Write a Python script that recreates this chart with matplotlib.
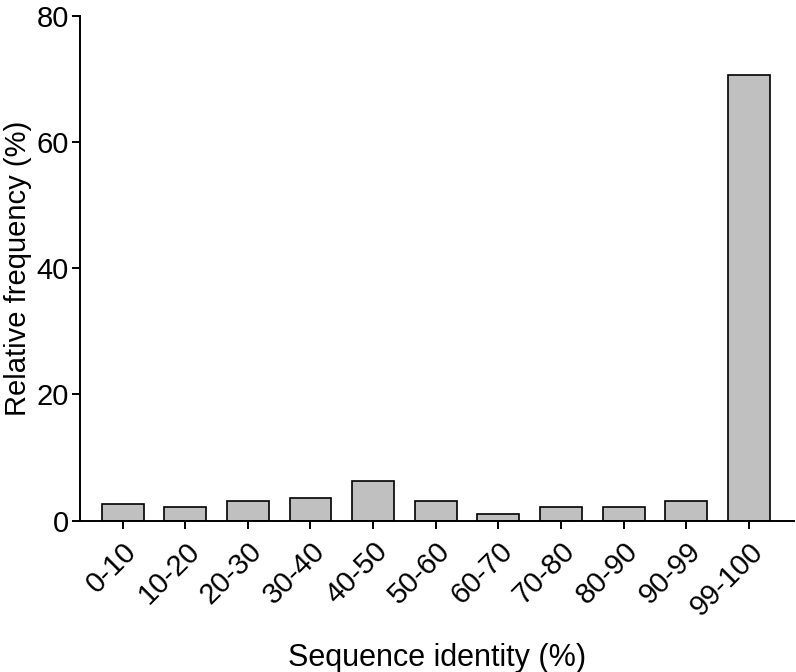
import matplotlib.pyplot as plt

plt.rcParams['font.family'] = ['Liberation Sans', 'DejaVu Sans']

categories = ["0-10", "10-20", "20-30", "30-40", "40-50", "50-60",
              "60-70", "70-80", "80-90", "90-99", "99-100"]
frequency = [2.6, 2.1, 3.1, 3.6, 6.2, 3.1, 1.0, 2.1, 2.1, 3.1, 70.6]

fig = plt.figure(figsize=(7.96, 6.72), dpi=100)
ax = fig.add_axes([0.1005, 0.2254, 0.897, 0.7508])

x = range(len(categories))
ax.bar(x, frequency, width=0.67, color="#c0c0c0", edgecolor="black", linewidth=1.2)

ax.set_xlim(-0.68, 10.72)
ax.set_ylim(0, 80)
ax.set_yticks([0, 20, 40, 60, 80])
ax.set_xticks(list(x))
ax.set_xticklabels(categories, rotation=45, ha="right", rotation_mode="anchor")

for side in ["top", "right"]:
    ax.spines[side].set_visible(False)
for side in ["left", "bottom"]:
    ax.spines[side].set_linewidth(1.4)

ax.tick_params(axis="both", labelsize=21, width=1.4, length=6, direction="out")
ax.tick_params(axis="y", pad=2)
ax.tick_params(axis="x", pad=6)

ax.set_xlabel("Sequence identity (%)", fontsize=22, labelpad=16)
ax.set_ylabel("Relative frequency (%)", fontsize=21, labelpad=3)

fig.savefig("out.png", dpi=100)
